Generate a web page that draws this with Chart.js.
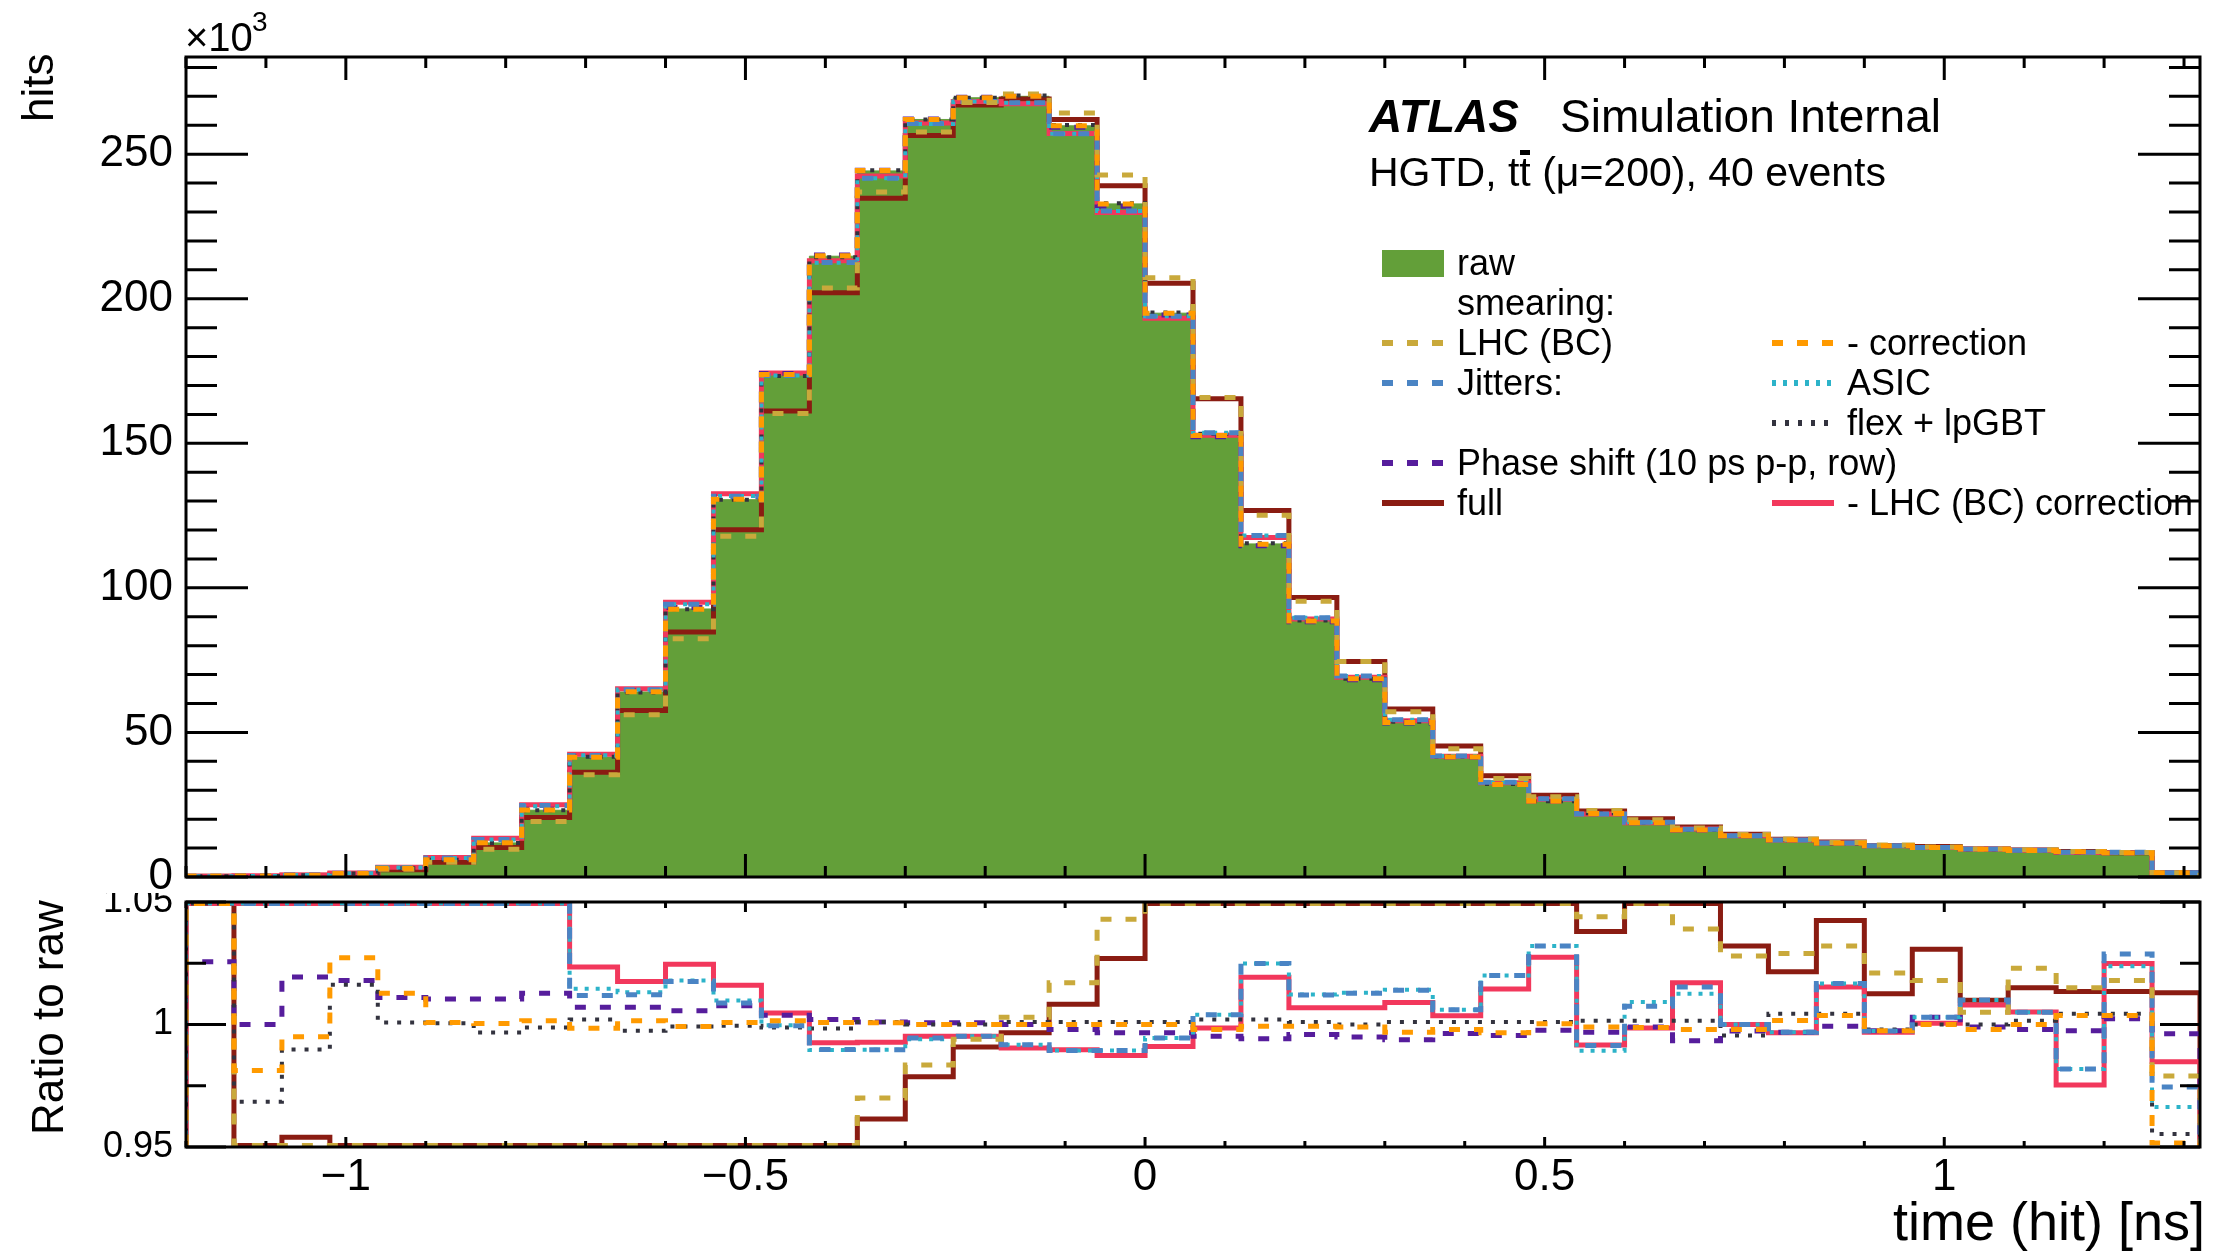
<!DOCTYPE html>
<html>
<head>
<meta charset="utf-8">
<script src="https://cdn.jsdelivr.net/npm/chart.js@4.4.1/dist/chart.umd.min.js"></script>
<style>
  html, body { margin: 0; padding: 0; background: #fff; }
  #wrap { position: relative; width: 2225px; height: 1254px; overflow: hidden; background: #fff;
          font-family: "Liberation Sans", Arial, Helvetica, sans-serif; color: #000; }
  #ratioBox { position: absolute; left: 0; top: 860px; width: 2225px; height: 394px; }
  #mainBox { position: absolute; left: 0; top: 0; width: 2225px; height: 893px; background: #fff; }
  canvas { display: block; }
  .t { position: absolute; white-space: nowrap; line-height: 1; }
  .rot { position: absolute; white-space: nowrap; line-height: 1; transform-origin: 0 0; transform: rotate(-90deg); }
  .sw { position: absolute; }
  .tbar { position: relative; display: inline-block; }
  .tbar i { position: absolute; left: 0.02em; top: -0.05em; width: 0.24em; height: 0.12em; background: #000; }
</style>
</head>
<body>
<div id="wrap">
  <div id="ratioBox"><canvas id="ratio" width="2225" height="394"></canvas></div>
  <div id="mainBox"><canvas id="main" width="2225" height="893"></canvas></div>
</div>
<script>
// ---------------- data ----------------
const BIN_LOW = -1.2;          // ns, low edge of first bin
const BIN_WIDTH = 0.06;        // ns
const X_MIN = -1.2, X_MAX = 1.32;
const Y_MAIN_MAX = 283.6;      // hits / 10^3
const R_MIN = 0.95, R_MAX = 1.05;

// raw hits per bin, in units of 10^3
const rawHits = [0.2, 0.35, 0.6, 1.2, 3.0, 6.0, 11.8, 23.1, 41.5, 64.0, 92.7, 130.5, 173.5, 214.7,
  244.2, 262.0, 269.5, 270.0, 259.8, 232.8, 195.0, 153.0, 115.2, 88.6, 68.6, 53.6, 41.6, 32.1,
  26.2, 22.0, 18.8, 16.3, 14.3, 12.8, 11.6, 10.8, 10.2, 9.6, 9.2, 8.7, 8.3, 1.5];

// ratio to raw, per bin
const ratioLHC = [1.10, 0.80, 0.90, 0.90, 0.88, 0.85, 0.81, 0.83, 0.853, 0.877, 0.889, 0.903, 0.924, 0.949,
  0.970, 0.9835, 0.994, 1.003, 1.017, 1.043, 1.063, 1.084, 1.086, 1.076, 1.086, 1.067, 1.067, 1.06,
  1.06, 1.044, 1.055, 1.039, 1.028, 1.029, 1.032, 1.021, 1.018, 1.005, 1.023, 1.015, 1.018, 0.979];
const ratioCorr = [1.10, 0.9812, 0.995, 1.0272, 1.0128, 1.0008, 1.0004, 1.0015, 0.9985, 1.0015, 0.9992, 1.0008, 1.0015, 1.0008,
  1.0007, 1.0, 1.0, 1.0, 1.0, 1.0, 1.0, 0.998, 0.9993, 0.9993, 0.999, 0.9968, 0.998, 0.9966,
  1.0003, 0.999, 0.9988, 0.998, 0.998, 1.0016, 1.0037, 0.9975, 1.0, 0.998, 1.0, 1.0037, 1.0037, 0.9516];
const ratioJitters = [1.10, 1.10, 1.10, 1.10, 1.10, 1.10, 1.10, 1.07, 1.0118, 1.0121, 1.0176, 1.0088, 0.9995, 0.9898,
  0.9897, 0.9945, 0.9952, 0.9917, 0.9894, 0.9894, 0.9945, 1.004, 1.0249, 1.012, 1.0128, 1.014, 1.006, 1.020,
  1.032, 0.9914, 1.0074, 1.0153, 1.0, 0.9968, 1.0167, 0.9973, 1.003, 1.010, 1.005, 0.9818, 1.0288, 0.9745];
const ratioASIC = [1.10, 1.10, 1.10, 1.10, 1.10, 1.10, 1.10, 1.06, 1.0146, 1.0132, 1.018, 1.0098, 0.9997, 0.9896,
  0.9897, 0.994, 0.9952, 0.9917, 0.9894, 0.9894, 0.9945, 1.004, 1.0249, 1.0122, 1.013, 1.0142, 1.006, 1.020,
  1.032, 0.9893, 1.0092, 1.0126, 1.0, 0.9968, 1.0167, 0.9973, 1.003, 1.010, 1.005, 0.9818, 1.0238, 0.9663];
const ratioFlex = [1.10, 0.9685, 0.9898, 1.0162, 1.0008, 1.0005, 0.9967, 0.9988, 1.002, 0.9974, 0.9992, 0.9995, 0.9988, 0.9984,
  1.001, 1.0, 1.0, 1.001, 1.001, 1.001, 1.001, 1.002, 1.002, 1.001, 1.0, 1.001, 1.001, 1.001,
  1.001, 1.0015, 1.0015, 1.0015, 0.9955, 1.0044, 1.0044, 0.998, 1.0, 1.0, 1.0015, 1.0044, 1.0044, 0.9553];
const ratioPhase = [1.0256, 1.0, 1.0194, 1.018, 1.011, 1.0104, 1.0104, 1.0128, 1.007, 1.007, 1.0056, 1.0077, 1.0038, 1.002,
  1.001, 1.0007, 1.0007, 1.0, 0.998, 0.9966, 0.9966, 0.9952, 0.9942, 0.9959, 0.9949, 0.9938, 0.9963, 0.9955,
  0.9977, 0.9968, 0.999, 0.9934, 0.9973, 0.9968, 0.9993, 0.9975, 1.003, 0.999, 0.998, 0.9975, 1.0023, 0.9962];
const ratioFull = [1.10, 0.60, 0.954, 0.85, 0.85, 0.85, 0.864, 0.89, 0.872, 0.90, 0.914, 0.92, 0.929, 0.941,
  0.9614, 0.9787, 0.9908, 0.9966, 1.0083, 1.0269, 1.053, 1.081, 1.10, 1.091, 1.086, 1.084, 1.09, 1.09,
  1.078, 1.038, 1.07, 1.06, 1.032, 1.0215, 1.0425, 1.0126, 1.0307, 1.0099, 1.015, 1.0135, 1.0135, 1.013];
const ratioLHCcorr = [1.12, 1.12, 1.12, 1.12, 1.12, 1.12, 1.136, 1.082, 1.0235, 1.0176, 1.0246, 1.016, 1.0047, 0.9926,
  0.9928, 0.9952, 0.9952, 0.9904, 0.9897, 0.9873, 0.991, 0.9986, 1.0193, 1.0068, 1.0068, 1.009, 1.0036, 1.0145,
  1.0275, 0.9916, 0.9986, 1.017, 1.0, 0.9966, 1.0153, 0.9968, 1.0005, 1.008, 1.0051, 0.9753, 1.0249, 0.9848];

// tick labels
const yMainTickLabels = ['0', '50', '100', '150', '200', '250'];
const xTickLabels = ['\u22121', '\u22120.5', '0', '0.5', '1'];
const yRatioTickLabels = ['0.95', '1', '1.05'];

// ---------------- styles ----------------
const FONT = '"Liberation Sans", Arial, Helvetica, sans-serif';
const series = [   // first = top-most
  { label: '- correction',          ratio: ratioCorr,    color: '#ff9a00', dash: [11, 14], width: 5 },
  { label: 'LHC (BC)',              ratio: ratioLHC,     color: '#c9a93b', dash: [11, 14], width: 5 },
  { label: 'Jitters:',              ratio: ratioJitters, color: '#4a84c4', dash: [11, 14], width: 5 },
  { label: 'ASIC',                  ratio: ratioASIC,    color: '#2cb3c9', dash: [4, 7],   width: 4 },
  { label: 'flex + lpGBT',          ratio: ratioFlex,    color: '#33333f', dash: [4, 9],   width: 4 },
  { label: 'Phase shift (10 ps p-p, row)', ratio: ratioPhase, color: '#561d9c', dash: [11, 14], width: 5 },
  { label: '- LHC (BC) correction', ratio: ratioLHCcorr, color: '#f2385c', dash: [],       width: 5 },
  { label: 'full',                  ratio: ratioFull,    color: '#8a1c12', dash: [],       width: 5 },
];
const RAW_COLOR = '#639f39';

const N_BINS = rawHits.length;
const edges = Array.from({ length: N_BINS + 1 }, (_, i) => +(BIN_LOW + i * BIN_WIDTH).toFixed(4));

function stepPoints(vals, base) {
  const pts = [{ x: edges[0], y: base }];
  vals.forEach((v, i) => pts.push({ x: edges[i], y: v }));
  pts.push({ x: edges[N_BINS], y: vals[N_BINS - 1] });
  pts.push({ x: edges[N_BINS], y: base });
  return pts;
}
const EPS = 0.0006;
const clampR = v => Math.min(Math.max(v, R_MIN + EPS), R_MAX - EPS);

function tickList(from, to, step, majorEvery, majLen, minLen) {
  const out = [];
  const n = Math.round((to - from) / step);
  for (let k = 0; k <= n; k++) {
    const v = +(from + k * step).toFixed(6);
    const isMaj = Math.abs(v / majorEvery - Math.round(v / majorEvery)) < 1e-6;
    out.push([v, isMaj ? majLen : minLen]);
  }
  return out;
}

function frameTicks(cfg) {
  return {
    id: 'frameTicks',
    afterDatasetsDraw(chart) {
      const { ctx, chartArea: a, scales } = chart;
      ctx.save();
      ctx.strokeStyle = '#000';
      ctx.lineWidth = 3;
      ctx.lineCap = 'butt';
      ctx.setLineDash([]);
      ctx.beginPath();
      cfg.xTicks.forEach(([v, len]) => {
        const px = scales.x.getPixelForValue(v);
        if (px < a.left - 1 || px > a.right + 1) return;
        ctx.moveTo(px, a.bottom); ctx.lineTo(px, a.bottom - len);
        ctx.moveTo(px, a.top); ctx.lineTo(px, a.top + len);
      });
      cfg.yTicks.forEach(([v, len]) => {
        const py = scales.y.getPixelForValue(v);
        ctx.moveTo(a.left, py); ctx.lineTo(a.left + len, py);
        ctx.moveTo(a.right, py); ctx.lineTo(a.right - len, py);
      });
      ctx.stroke();
      ctx.strokeRect(a.left, a.top, a.right - a.left, a.bottom - a.top);
      ctx.restore();
    }
  };
}

function zeroPad(scale) { scale.paddingTop = 0; scale.paddingBottom = 0; scale.paddingLeft = 0; scale.paddingRight = 0; }

// ---------------- main panel ----------------
const mainDatasets = series.map(s => ({
  label: s.label,
  data: stepPoints(rawHits.map((v, i) => v * s.ratio[i]), 0),
  borderColor: s.color, borderWidth: s.width, borderDash: s.dash, borderCapStyle: 'butt',
  stepped: true, pointRadius: 0, fill: false, tension: 0
}));
mainDatasets.push({
  label: 'raw', data: stepPoints(rawHits, 0),
  borderColor: RAW_COLOR, borderWidth: 1, backgroundColor: RAW_COLOR,
  stepped: true, pointRadius: 0, fill: 'origin', tension: 0
});

new Chart(document.getElementById('main'), {
  type: 'line',
  data: { datasets: mainDatasets },
  options: {
    responsive: false, animation: false, events: [],
    layout: { padding: { left: 0, right: 25, top: 57, bottom: 16 } },
    plugins: { legend: { display: false }, tooltip: { enabled: false } },
    scales: {
      x: { type: 'linear', min: X_MIN, max: X_MAX, display: false },
      y: {
        type: 'linear', min: 0, max: Y_MAIN_MAX,
        grid: { display: false, drawTicks: false }, border: { display: false },
        ticks: { stepSize: 50, includeBounds: false, padding: 13, color: '#000',
                 font: { family: FONT, size: 44 },
                 callback: (v) => yMainTickLabels[Math.round(v / 50)] },
        afterFit: (s) => { s.width = 186; zeroPad(s); }
      }
    }
  },
  plugins: [frameTicks({
    xTicks: tickList(-1.2, 1.3, 0.1, 0.5, 23, 11),
    yTicks: tickList(0, 280, 10, 50, 62, 31)
  })]
});

// ---------------- ratio panel ----------------
const ratioDatasets = series.map(s => ({
  label: s.label,
  data: stepPoints(s.ratio.map(clampR), clampR(0)),
  borderColor: s.color, borderWidth: s.width, borderDash: s.dash, borderCapStyle: 'butt',
  stepped: true, pointRadius: 0, fill: false, tension: 0
}));

new Chart(document.getElementById('ratio'), {
  type: 'line',
  data: { datasets: ratioDatasets },
  options: {
    responsive: false, animation: false, events: [],
    layout: { padding: { left: 0, right: 25, top: 42, bottom: 0 } },
    plugins: { legend: { display: false }, tooltip: { enabled: false } },
    scales: {
      x: {
        type: 'linear', min: X_MIN, max: X_MAX,
        grid: { display: false, drawTicks: false }, border: { display: false },
        ticks: { stepSize: 0.5, includeBounds: false, padding: 4, color: '#000', maxRotation: 0,
                 font: { family: FONT, size: 44 },
                 callback: (v) => xTickLabels[Math.round((v + 1) / 0.5)] },
        afterFit: (s) => { s.height = 107; zeroPad(s); }
      },
      y: {
        type: 'linear', min: R_MIN, max: R_MAX,
        grid: { display: false, drawTicks: false }, border: { display: false },
        ticks: { stepSize: 0.05, includeBounds: false, padding: 13, color: '#000',
                 font: { family: FONT, size: 36 },
                 callback: (v) => yRatioTickLabels[Math.round((v - R_MIN) / 0.05)] },
        afterFit: (s) => { s.width = 186; zeroPad(s); }
      }
    }
  },
  plugins: [frameTicks({
    xTicks: tickList(-1.2, 1.3, 0.1, 0.5, 10, 6),
    yTicks: tickList(0.95, 1.05, 0.025, 0.05, 40, 20)
  })]
});

// ---------------- texts & legend (HTML) ----------------
const wrap = document.getElementById('wrap');
function addText(txt, x, baseline, size, extra) {
  const d = document.createElement('div');
  d.className = 't';
  d.style.left = x + 'px';
  d.style.top = (baseline - 0.8465 * size) + 'px';
  d.style.fontSize = size + 'px';
  if (extra) Object.assign(d.style, extra);
  d.innerHTML = txt;
  wrap.appendChild(d);
  return d;
}
function addRot(txt, xTop, yStart, size) {
  const d = document.createElement('div');
  d.className = 'rot';
  d.style.left = xTop + 'px';
  d.style.top = yStart + 'px';
  d.style.fontSize = size + 'px';
  d.textContent = txt;
  wrap.appendChild(d);
}
function addSwatch(x, yc, color, dash, width) {
  const ns = 'http://www.w3.org/2000/svg';
  const svg = document.createElementNS(ns, 'svg');
  svg.setAttribute('width', 62); svg.setAttribute('height', 14);
  svg.setAttribute('class', 'sw');
  svg.style.left = x + 'px'; svg.style.top = (yc - 7) + 'px';
  const l = document.createElementNS(ns, 'line');
  l.setAttribute('x1', 0); l.setAttribute('x2', 62); l.setAttribute('y1', 7); l.setAttribute('y2', 7);
  l.setAttribute('stroke', color); l.setAttribute('stroke-width', width);
  if (dash.length) l.setAttribute('stroke-dasharray', dash.join(' '));
  svg.appendChild(l);
  wrap.appendChild(svg);
}

// axis titles
addRot('hits', 16, 122, 44);
addRot('Ratio to raw', 26, 1135, 44);
const xt = addText('time (hit) [ns]', 0, 1240, 54);
xt.style.left = ''; xt.style.right = '20px';
addText('\u00d710', 185, 51, 40);
addText('3', 252, 32, 28);

// ATLAS label
addText('ATLAS', 1369, 132, 46, { fontWeight: 'bold', fontStyle: 'italic' });
addText('Simulation Internal', 1560, 132, 46);
addText('HGTD, t<span class="tbar">t<i></i></span> (\u03bc=200), 40 events', 1369, 187, 41);

// legend
const LX = 1382, LTX = 1457, RX = 1772, RTX = 1847;
const rowY = [262.5, 302.5, 342.5, 382.5, 422.5, 462.5, 502.5];
const LFS = 36;
const bl = yc => yc + 13;
const rawBox = document.createElement('div');
Object.assign(rawBox.style, { position: 'absolute', left: LX + 'px', top: (rowY[0] - 13) + 'px',
  width: '62px', height: '27px', background: RAW_COLOR });
wrap.appendChild(rawBox);
addText('raw', LTX, bl(rowY[0]), LFS);
addText('smearing:', LTX, bl(rowY[1]), LFS);
const S = Object.fromEntries(series.map(s => [s.label, s]));
function legendEntry(label, col, row) {
  const s = S[label];
  addSwatch(col === 0 ? LX : RX, rowY[row], s.color, s.dash, 6);
  addText(label, col === 0 ? LTX : RTX, bl(rowY[row]), LFS);
}
legendEntry('LHC (BC)', 0, 2);
legendEntry('- correction', 1, 2);
legendEntry('Jitters:', 0, 3);
legendEntry('ASIC', 1, 3);
legendEntry('flex + lpGBT', 1, 4);
legendEntry('Phase shift (10 ps p-p, row)', 0, 5);
legendEntry('full', 0, 6);
legendEntry('- LHC (BC) correction', 1, 6);
</script>
</body>
</html>
